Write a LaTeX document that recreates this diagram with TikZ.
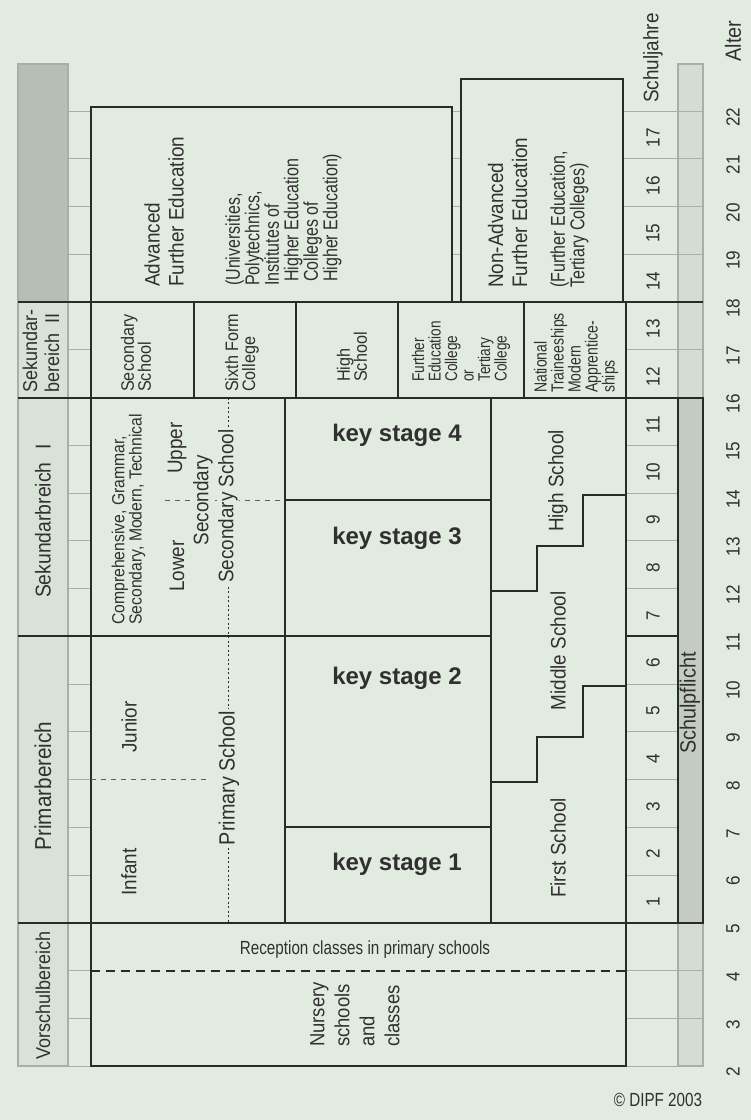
\documentclass[tikz,border=0pt]{standalone}
\usepackage{fontspec}
\setmainfont{Liberation Sans}
\newfontfamily\cond[FakeStretch=0.9]{Liberation Sans}
\newfontfamily\narr[FakeStretch=0.8]{Liberation Sans}
\definecolor{bg}{HTML}{E2EBE0}
\definecolor{lc}{HTML}{2A2A2A}
\definecolor{gc}{HTML}{A7B0A5}
\definecolor{dg}{HTML}{B6BEB5}
\definecolor{lg}{HTML}{D5DDD3}
\definecolor{spc}{HTML}{C4CCC2}
\definecolor{lab}{HTML}{D9E2D6}
\definecolor{tx}{HTML}{303030}
\begin{document}
\begin{tikzpicture}[x=1pt,y=-1pt,
  thk/.style={draw=lc,line width=2pt},
  grd/.style={draw=gc,line width=0.8pt},
  bx/.style={draw=lc,line width=2pt,fill=bg},
  lbox/.style={draw=gc,line width=1.4pt,fill=lab},
  rt/.style={rotate=90,inner sep=0pt,text=tx},
  hz/.style={inner sep=0pt,text=tx},
  cut/.style={fill=bg,inner sep=1.5pt}]
\fill[bg] (0,0) rectangle (751,1120);
\useasboundingbox (0,0) rectangle (751,1120);
% left label column and right light column
\draw[lbox,fill=dg] (18,64) rectangle (68,302);
\draw[lbox] (18,302) rectangle (68,397.5);
\draw[lbox] (18,397.5) rectangle (68,636.25);
\draw[lbox] (18,636.25) rectangle (68,922.75);
\draw[lbox] (18,922.75) rectangle (68,1066);
\draw[lbox,fill=lg] (678,64) rectangle (703,1066);
% age grid
\foreach \a in {2,...,22}{
  \draw[grd] (68,{1066-47.75*(\a-2)}) -- (703,{1066-47.75*(\a-2)});
}
% further education
\draw[bx] (91,107) rectangle (452,302);
\draw[bx] (461,79) rectangle (623,302);
% Sekundarbereich II
\draw[bx] (91,302) rectangle (194,397.5);
\draw[bx] (194,302) rectangle (295.5,397.5);
\draw[bx] (295.5,302) rectangle (398,397.5);
\draw[bx] (398,302) rectangle (524,397.5);
\draw[bx] (524,302) rectangle (626,397.5);
% Sekundarbereich I / Primarbereich
\draw[bx] (91,397.5) rectangle (285,922.75);
\draw[bx] (285,397.5) rectangle (491,500);
\draw[bx] (285,500) rectangle (491,636.25);
\draw[bx] (285,636.25) rectangle (491,827.25);
\draw[bx] (285,827.25) rectangle (491,922.75);
\draw[bx] (491,397.5) rectangle (626,922.75);
\draw[thk] (491,782) -- (537,782) -- (537,737) -- (583,737) -- (583,686) -- (626,686);
\draw[thk] (491,591) -- (537,591) -- (537,546) -- (583,546) -- (583,495) -- (626,495);
% Vorschulbereich
\draw[bx] (91,922.75) rectangle (626,1066);
% Schuljahre and Schulpflicht
\draw[thk] (626,397.5) rectangle (678,922.75);
\draw[thk] (626,636.25) -- (678,636.25);
\draw[thk,fill=spc] (678,397.5) rectangle (703,922.75);
% long separators
\draw[thk] (18,302) -- (703,302);
\draw[thk] (18,397.5) -- (703,397.5);
\draw[thk] (18,922.75) -- (703,922.75);
\draw[thk] (18,636.25) -- (285,636.25);
% dotted / dashed lines
\draw[lc,line width=1pt,dash pattern=on 2pt off 2.5pt] (228,397.5) -- (228,922.75);
\draw[lc!75,line width=1pt,dash pattern=on 5pt off 5pt] (165,500) -- (285,500);
\draw[lc!75,line width=1pt,dash pattern=on 5pt off 5pt] (91,779.5) -- (206,779.5);
\draw[lc,line width=2pt,dash pattern=on 9pt off 6pt] (91,970.5) -- (626,970.5);
% left labels
\node[rt,anchor=west,align=left,font=\cond\fontsize{20}{22}\selectfont] (sek2) at (41,393) {Sekundar-\\bereich\hspace{0.5em}II};
\node[rt,font=\cond\fontsize{21.5}{24}\selectfont] (sek1) at (43,521) {Sekundarbreich\hspace{0.6em}I};
\node[rt,font=\cond\fontsize{23}{24}\selectfont] (prim) at (43,786) {Primarbereich};
\node[rt,font=\cond\fontsize{20}{24}\selectfont] (vor) at (43,995) {Vorschulbereich};
% further education texts
\node[rt,anchor=west,align=left,font=\cond\fontsize{21}{24}\selectfont] (afe) at (164,287) {Advanced\\Further Education};
\node[rt,anchor=west,align=left,font=\narr\fontsize{20}{19.5}\selectfont] (afep) at (283.5,286) {(Universities,\\Polytechnics,\\Institutes of\\\hspace*{0.2em}Higher Education\\\hspace*{0.2em}Colleges of\\\hspace*{0.2em}Higher Education)};
\node[rt,anchor=west,align=left,font=\cond\fontsize{21}{24}\selectfont] (nafe) at (507.5,288) {Non-Advanced\\Further Education};
\node[rt,anchor=west,align=left,font=\narr\fontsize{20}{18}\selectfont] (nafep) at (569.5,288) {(Further Education,\\Tertiary Colleges)};
% Sek II texts
\node[rt,anchor=west,align=left,font=\cond\fontsize{18}{17}\selectfont] (secs) at (136,392) {Secondary\\School};
\node[rt,anchor=west,align=left,font=\cond\fontsize{18}{17}\selectfont] (sixth) at (242,392) {Sixth Form\\College};
\node[rt,anchor=west,align=left,font=\cond\fontsize{18}{17}\selectfont] (hs2) at (352,382) {High\\School};
\node[rt,anchor=west,align=left,font=\narr\fontsize{17}{16.5}\selectfont] (fec) at (461,382) {Further\\Education\\College\\or\\Tertiary\\College};
\node[rt,anchor=west,align=left,font=\narr\fontsize{17.5}{17}\selectfont] (nt) at (576,393) {National\\Traineeships\\Modern\\Apprentice-\\ships};
% Sek I left texts
\node[rt,anchor=west,align=left,font=\cond\fontsize{17.5}{16}\selectfont] (comp) at (128.5,625) {Comprehensive, Grammar,\\Secondary, Modern, Technical};
\node[rt,font=\cond\fontsize{21}{24}\selectfont] (lower) at (177,566) {Lower};
\node[rt,font=\cond\fontsize{21}{24}\selectfont] (upper) at (177,448) {Upper};
\node[rt,cut,font=\cond\fontsize{21}{24}\selectfont] (secm) at (203,500) {Secondary};
\node[rt,cut,font=\cond\fontsize{21}{24}\selectfont] (secsch) at (228,506) {Secondary School};
% Primary left texts
\node[rt,font=\cond\fontsize{21}{24}\selectfont] (junior) at (129,727) {Junior};
\node[rt,font=\cond\fontsize{21}{24}\selectfont] (infant) at (129,872) {Infant};
\node[rt,cut,font=\cond\fontsize{22}{24}\selectfont] (prims) at (229,778) {Primary School};
% key stages
\node[hz,font=\bfseries\fontsize{24}{26}\selectfont] (ks4) at (397,435) {key stage 4};
\node[hz,font=\bfseries\fontsize{24}{26}\selectfont] (ks3) at (397,538) {key stage 3};
\node[hz,font=\bfseries\fontsize{24}{26}\selectfont] (ks2) at (397,678) {key stage 2};
\node[hz,font=\bfseries\fontsize{24}{26}\selectfont] (ks1) at (397,864) {key stage 1};
% three-tier schools
\node[rt,font=\cond\fontsize{21}{24}\selectfont] (high) at (558,481) {High School};
\node[rt,font=\cond\fontsize{21}{24}\selectfont] (middle) at (558,651) {Middle School};
\node[rt,font=\cond\fontsize{21}{24}\selectfont] (first) at (558,848) {First School};
% pre-school
\node[hz,font=\narr\fontsize{19}{22}\selectfont] (recep) at (365,950) {Reception classes in primary schools};
\node[rt,anchor=west,align=left,font=\cond\fontsize{20.5}{25}\selectfont] (nurs) at (355,1047) {Nursery\\schools\\and\\classes};
% right columns
\node[rt,font=\cond\fontsize{21}{24}\selectfont] (sj) at (653,58) {Schuljahre};
\node[rt,font=\cond\fontsize{22}{24}\selectfont] (alter) at (733,41) {Alter};
\node[rt,font=\cond\fontsize{22}{24}\selectfont] (pflicht) at (690,703) {Schulpflicht};
\foreach \a in {2,...,22}{
  \node[rt,font=\cond\fontsize{19}{22}\selectfont] (age\a) at (733,{1066-47.75*(\a-2)+6}) {\a};
}
\foreach \n in {1,...,17}{
  \node[rt,font=\cond\fontsize{19}{22}\selectfont] (yr\n) at (653,{1066-47.75*(\n+2.5)+3}) {\n};
}
\node[hz,font=\narr\fontsize{19}{20}\selectfont] (dipf) at (658,1100) {© DIPF 2003};
\end{tikzpicture}
\end{document}
